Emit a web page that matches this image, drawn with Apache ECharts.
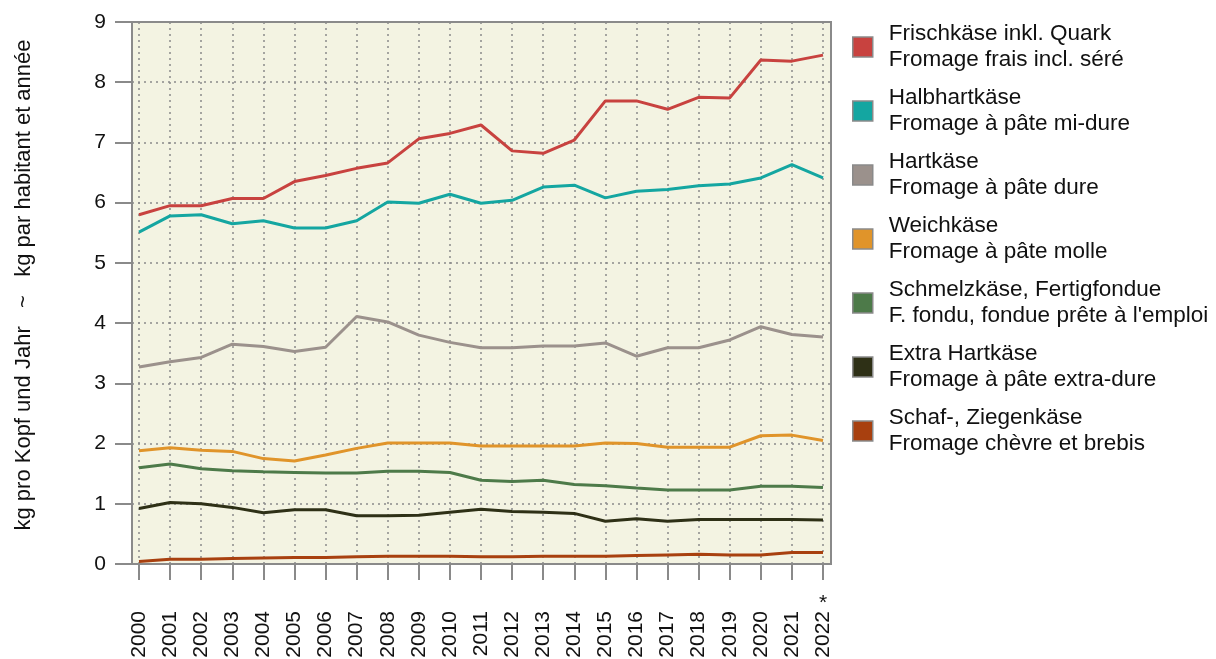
<!DOCTYPE html>
<html lang="de">
<head>
    <meta charset="UTF-8">
    <title>Käsekonsum pro Kopf</title>
    <script src="https://cdn.jsdelivr.net/npm/echarts@6/dist/echarts.min.js"></script>
    <style>
        html, body { margin: 0; padding: 0; background: #fff; }
        #chart { width: 1216px; height: 659px; }
    </style>
</head>
<body>
<div id="chart"></div>
<script>
    // Jahre / années
    var years = ['2000', '2001', '2002', '2003', '2004', '2005', '2006', '2007', '2008', '2009', '2010',
        '2011', '2012', '2013', '2014', '2015', '2016', '2017', '2018', '2019', '2020', '2021', '2022'];

    var namesDe = ['Frischkäse inkl. Quark', 'Halbhartkäse', 'Hartkäse', 'Weichkäse',
        'Schmelzkäse, Fertigfondue', 'Extra Hartkäse', 'Schaf-, Ziegenkäse'];
    var namesFr = ['Fromage frais incl. séré', 'Fromage à pâte mi-dure', 'Fromage à pâte dure',
        'Fromage à pâte molle', "F. fondu, fondue prête à l'emploi", 'Fromage à pâte extra-dure',
        'Fromage chèvre et brebis'];
    var colors = ['#c8423f', '#14a6a1', '#9b918c', '#e0942a', '#4d7a49', '#2e3016', '#a8400f'];

    // kg pro Kopf und Jahr
    var frisch = [5.80, 5.95, 5.95, 6.07, 6.07, 6.35, 6.45, 6.57, 6.66, 7.06, 7.15,
        7.29, 6.86, 6.82, 7.04, 7.69, 7.69, 7.55, 7.75, 7.74, 8.37, 8.35, 8.45];
    var halbhart = [5.51, 5.78, 5.80, 5.65, 5.70, 5.58, 5.58, 5.70, 6.01, 5.99, 6.14,
        5.99, 6.04, 6.26, 6.29, 6.08, 6.19, 6.22, 6.28, 6.31, 6.41, 6.63, 6.41];
    var hart = [3.27, 3.36, 3.43, 3.65, 3.61, 3.53, 3.60, 4.11, 4.02, 3.80, 3.68,
        3.59, 3.59, 3.62, 3.62, 3.67, 3.45, 3.59, 3.59, 3.72, 3.94, 3.81, 3.77];
    var weich = [1.88, 1.93, 1.89, 1.87, 1.75, 1.71, 1.81, 1.92, 2.01, 2.01, 2.01,
        1.96, 1.96, 1.96, 1.96, 2.01, 2.00, 1.94, 1.94, 1.94, 2.13, 2.14, 2.05];
    var schmelz = [1.60, 1.66, 1.58, 1.55, 1.53, 1.52, 1.51, 1.51, 1.54, 1.54, 1.52,
        1.39, 1.37, 1.39, 1.32, 1.30, 1.26, 1.23, 1.23, 1.23, 1.29, 1.29, 1.27];
    var extraHart = [0.92, 1.02, 1.00, 0.94, 0.85, 0.90, 0.90, 0.80, 0.80, 0.81, 0.86,
        0.91, 0.87, 0.86, 0.84, 0.71, 0.75, 0.71, 0.74, 0.74, 0.74, 0.74, 0.73];
    var schafZiege = [0.04, 0.08, 0.08, 0.09, 0.10, 0.11, 0.11, 0.12, 0.13, 0.13, 0.13,
        0.12, 0.12, 0.13, 0.13, 0.13, 0.14, 0.15, 0.16, 0.15, 0.15, 0.19, 0.19];

    var yTicks = ['0', '1', '2', '3', '4', '5', '6', '7', '8', '9'];

    var allData = [frisch, halbhart, hart, weich, schmelz, extraHart, schafZiege];
    var font = 'Liberation Sans, Arial, sans-serif';
    var gridLine = { color: '#8a8a8a', width: 1.5, type: [2, 4] };

    var chart = echarts.init(document.getElementById('chart'));

    var series = [], legendData = [];
    for (var i = 0; i < allData.length; i++) {
        var nm = namesDe[i] + '\n' + namesFr[i];
        series.push({
            type: 'line',
            name: nm,
            xAxisIndex: 1,
            yAxisIndex: 1,
            data: allData[i],
            symbol: 'none',
            color: colors[i],
            lineStyle: { width: 3, color: colors[i] },
            z: 10 - i
        });
        legendData.push({
            name: nm,
            itemStyle: { color: colors[i], borderColor: '#8a8a8a', borderWidth: 1.5 }
        });
    }

    var option = {
        animation: false,
        backgroundColor: '#ffffff',
        textStyle: { fontFamily: font },
        grid: [{
            // Rahmen
            left: 132, right: 385, top: 22, bottom: 95,
            outerBoundsMode: 'none',
            containLabel: false,
            show: true,
            backgroundColor: '#f3f3e2',
            borderColor: '#8a8a8a',
            borderWidth: 2
        }, {
            // Daten
            left: 139, right: 393, top: 22, bottom: 95,
            outerBoundsMode: 'none',
            containLabel: false
        }],
        xAxis: [{
            gridIndex: 0,
            type: 'value',
            show: false
        }, {
            gridIndex: 1,
            type: 'category',
            data: years,
            boundaryGap: false,
            axisLine: { show: false },
            axisTick: { show: true, length: 16, lineStyle: { color: '#8a8a8a', width: 2 } },
            axisLabel: {
                rotate: 90, margin: 47, fontSize: 21, color: '#111', fontFamily: font, interval: 0
            },
            splitLine: { show: true, lineStyle: gridLine }
        }, {
            // Stern für 2022 (provisorisch)
            gridIndex: 1,
            type: 'category',
            position: 'bottom',
            data: years,
            boundaryGap: false,
            axisLine: { show: false },
            axisTick: { show: false },
            axisLabel: {
                margin: 29, fontSize: 21, color: '#111', fontFamily: font, interval: 0,
                formatter: function (v, idx) { return idx === years.length - 1 ? '*' : ''; }
            },
            splitLine: { show: false }
        }],
        yAxis: [{
            gridIndex: 0,
            type: 'value',
            min: 0, max: 9, interval: 1,
            axisLine: { show: false },
            axisTick: { show: true, length: 17, lineStyle: { color: '#8a8a8a', width: 2 } },
            axisLabel: {
                margin: 26, fontSize: 21, color: '#111', fontFamily: font,
                formatter: function (v) { return yTicks[v]; }
            },
            splitLine: { show: true, lineStyle: gridLine },
            name: 'kg pro Kopf und Jahr   ~   kg par habitant et année',
            nameLocation: 'middle',
            nameRotate: 90,
            nameGap: 97,
            nameTextStyle: { fontSize: 22, color: '#111', fontFamily: font, padding: [0, 0, 0, 16] }
        }, {
            gridIndex: 1,
            type: 'value',
            min: 0, max: 9, interval: 1,
            show: false
        }],
        legend: {
            orient: 'vertical',
            left: 847,
            top: 16,
            icon: 'rect',
            itemWidth: 20,
            itemHeight: 20,
            itemGap: 12,
            selectedMode: false,
            data: legendData,
            textStyle: {
                fontSize: 22.5, lineHeight: 26, color: '#111', fontFamily: font,
                padding: [0, 0, 0, 11]
            }
        },
        series: series
    };
    chart.setOption(option);
</script>
</body>
</html>
